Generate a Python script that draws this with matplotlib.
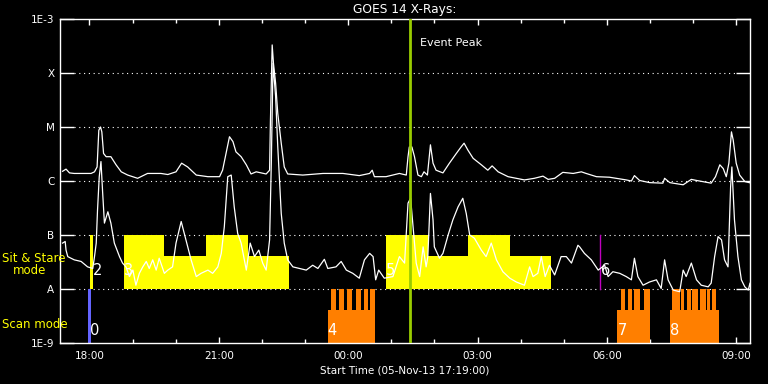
import numpy as np
import matplotlib
matplotlib.use("Agg")
import matplotlib.pyplot as plt
import matplotlib.dates as mdates
from matplotlib.ticker import NullLocator

START = np.datetime64("2013-11-05T17:19:00")

# GOES long channel (1-8 A): hours after start, log10 flux
long_t = [0.06, 0.14, 0.22, 0.33, 0.72, 0.80, 0.86, 0.90, 0.94, 0.97, 1.01, 1.07, 1.18, 1.30,
          1.42, 1.57, 1.80, 2.03, 2.34, 2.50, 2.69, 2.82, 2.96, 3.16, 3.43, 3.70, 3.77, 3.85,
          3.93, 4.01, 4.08, 4.20, 4.32, 4.43, 4.55, 4.78, 4.86, 4.88, 4.92, 4.95, 5.00, 5.05,
          5.13, 5.20, 5.28, 5.63, 6.10, 6.56, 6.94, 7.18, 7.24, 7.29, 7.56, 7.87, 8.03, 8.07,
          8.10, 8.16, 8.22, 8.30, 8.38, 8.44, 8.52, 8.59, 8.65, 8.72, 8.88, 9.03, 9.19, 9.30,
          9.37, 9.46, 9.58, 9.77, 9.92, 10.02, 10.16, 10.39, 10.77, 11.00, 11.20, 11.32, 11.47,
          11.66, 11.90, 12.09, 12.20, 12.44, 12.74, 13.13, 13.25, 13.32, 13.44, 13.67, 13.98,
          14.02, 14.14, 14.45, 14.64, 14.76, 15.10, 15.20, 15.30, 15.38, 15.45, 15.51, 15.57,
          15.61, 15.68, 15.76, 15.88, 16.03]
long_lg = [-5.82, -5.78, -5.85, -5.86, -5.86, -5.83, -5.74, -5.06, -5.00, -5.09, -5.49, -5.55,
           -5.55, -5.70, -5.83, -5.89, -5.95, -5.86, -5.86, -5.88, -5.83, -5.67, -5.74, -5.89,
           -5.92, -5.92, -5.80, -5.49, -5.18, -5.27, -5.46, -5.55, -5.70, -5.87, -5.83, -5.87,
           -5.80, -4.87, -3.48, -3.82, -4.19, -4.75, -5.30, -5.74, -5.87, -5.89, -5.86, -5.86,
           -5.90, -5.86, -5.80, -5.92, -5.92, -5.86, -5.89, -5.55, -5.37, -5.37, -5.55, -5.89,
           -5.92, -5.83, -5.89, -5.33, -5.67, -5.80, -5.85, -5.67, -5.49, -5.37, -5.30, -5.43,
           -5.58, -5.70, -5.80, -5.72, -5.83, -5.92, -5.98, -5.95, -5.91, -5.97, -5.95, -5.84,
           -5.86, -5.83, -5.86, -5.92, -5.93, -5.98, -6.00, -5.90, -5.99, -6.03, -6.04, -5.95,
           -6.03, -6.07, -5.97, -5.99, -6.04, -5.92, -5.70, -5.77, -5.92, -5.67, -5.09, -5.24,
           -5.67, -5.89, -6.01, -6.04]

# GOES short channel (0.5-4 A)
short_t = [0.06, 0.12, 0.14, 0.18, 0.33, 0.49, 0.64, 0.76, 0.80, 0.84, 0.87, 0.91, 0.95, 0.99,
           1.03, 1.11, 1.18, 1.26, 1.38, 1.45, 1.53, 1.61, 1.69, 1.76, 1.84, 1.92, 2.00, 2.07,
           2.15, 2.23, 2.30, 2.42, 2.50, 2.61, 2.69, 2.81, 2.92, 3.04, 3.16, 3.27, 3.43, 3.54,
           3.66, 3.74, 3.81, 3.89, 3.97, 4.04, 4.12, 4.20, 4.32, 4.41, 4.51, 4.61, 4.70, 4.78,
           4.86, 4.90, 4.94, 5.00, 5.05, 5.13, 5.20, 5.28, 5.40, 5.55, 5.71, 5.86, 5.98, 6.13,
           6.21, 6.40, 6.52, 6.64, 6.79, 6.94, 7.06, 7.18, 7.26, 7.32, 7.39, 7.52, 7.72, 7.87,
           7.99, 8.07, 8.13, 8.18, 8.26, 8.34, 8.42, 8.49, 8.53, 8.59, 8.65, 8.68, 8.80, 8.88,
           9.00, 9.11, 9.23, 9.34, 9.42, 9.50, 9.61, 9.77, 9.88, 10.00, 10.12, 10.27, 10.43,
           10.58, 10.77, 10.89, 10.97, 11.08, 11.16, 11.25, 11.35, 11.47, 11.62, 11.74, 11.86,
           12.01, 12.05, 12.16, 12.32, 12.48, 12.63, 12.71, 12.82, 12.98, 13.13, 13.25, 13.32,
           13.40, 13.52, 13.67, 13.83, 13.94, 14.02, 14.10, 14.22, 14.37, 14.45, 14.52, 14.64,
           14.76, 14.87, 15.03, 15.10, 15.18, 15.26, 15.34, 15.41, 15.49, 15.55, 15.58, 15.64,
           15.72, 15.80, 15.88, 15.96, 16.00, 16.03]
short_lg = [-7.15, -7.12, -7.28, -7.40, -7.46, -7.49, -7.59, -7.62, -7.40, -7.15, -6.54, -5.92,
            -5.64, -6.23, -6.78, -6.57, -6.78, -7.15, -7.40, -7.52, -7.59, -7.77, -7.65, -7.93,
            -7.71, -7.59, -7.49, -7.62, -7.46, -7.65, -7.43, -7.71, -7.65, -7.59, -7.15, -6.75,
            -7.09, -7.46, -7.77, -7.71, -7.65, -7.71, -7.59, -7.34, -6.85, -5.92, -5.89, -6.48,
            -6.97, -7.15, -7.65, -7.15, -7.40, -7.28, -7.52, -7.65, -7.09, -5.67, -3.82, -4.44,
            -5.37, -6.60, -7.15, -7.46, -7.59, -7.62, -7.65, -7.56, -7.62, -7.45, -7.62, -7.59,
            -7.49, -7.65, -7.71, -7.80, -7.46, -7.34, -7.40, -7.83, -7.65, -7.80, -7.77, -7.40,
            -7.52, -6.41, -6.32, -6.78, -7.52, -7.77, -7.22, -7.59, -7.40, -6.23, -6.72, -7.22,
            -7.43, -7.34, -7.00, -6.72, -6.48, -6.32, -6.60, -7.00, -7.06, -7.28, -7.40, -7.15,
            -7.46, -7.68, -7.80, -7.87, -7.93, -7.59, -7.77, -7.71, -7.40, -7.77, -7.56, -7.74,
            -7.40, -7.40, -7.52, -7.19, -7.22, -7.34, -7.46, -7.65, -7.56, -7.77, -7.68, -7.71,
            -7.77, -7.83, -7.43, -7.77, -7.93, -7.87, -7.83, -7.99, -7.46, -7.83, -8.02, -8.05,
            -7.65, -7.77, -7.52, -7.83, -7.93, -7.96, -7.89, -7.40, -7.03, -7.09, -7.46, -7.59,
            -6.11, -5.74, -6.72, -7.40, -7.83, -7.96, -8.02, -7.89, -8.07]

# sit & stare observations (from A level up to top)
sit_t0 = [0.70, 1.49, 2.41, 3.39, 4.36, 7.56, 8.54, 9.47, 10.44]
sit_t1 = [0.77, 2.41, 3.39, 4.36, 5.31, 8.54, 9.47, 10.44, 11.39]
sit_top = [1e-7, 1e-7, 4.1e-8, 1e-7, 4.1e-8, 1e-7, 4.1e-8, 1e-7, 4.1e-8]

# scan mode observations (from 1E-9 up to top)
scan_t0 = [6.21, 6.29, 6.47, 6.66, 6.87, 7.05, 7.19,
           12.92, 13.01, 13.18, 13.32, 13.55,
           14.15, 14.20, 14.27, 14.41, 14.55, 14.66, 14.85, 15.01, 15.13]
scan_t1 = [7.31, 6.40, 6.59, 6.77, 6.98, 7.15, 7.31,
           13.67, 13.11, 13.27, 13.46, 13.67,
           15.27, 14.25, 14.38, 14.48, 14.64, 14.80, 14.99, 15.08, 15.22]
scan_top = [4.1e-9, 1e-8, 1e-8, 1e-8, 1e-8, 1e-8, 1e-8,
            4.1e-9, 1e-8, 1e-8, 1e-8, 1e-8,
            4.1e-9, 1e-8, 1e-8, 1e-8, 1e-8, 1e-8, 1e-8, 1e-8, 1e-8]

# other events
ev0_t = [0.66, 0.71]
ev6_t = 12.53
peak_t = 8.12

ev_num = ["0", "2", "3", "4", "5", "6", "7", "8"]
ev_t = [0.70, 0.77, 1.49, 6.21, 7.56, 12.55, 12.94, 14.15]
ev_base = [1.25e-9, 1.6e-8, 1.6e-8, 1.25e-9, 1.6e-8, 1.6e-8, 1.25e-9, 1.25e-9]

ytick_vals = [1e-9, 1e-8, 1e-7, 1e-6, 1e-5, 1e-4, 1e-3]
ytick_labels = ["1E-9", "A", "B", "C", "M", "X", "1E-3"]


def when(hours):
    return START + (np.asarray(hours, dtype=float) * 3600).astype("timedelta64[s]")


fig = plt.figure(figsize=(7.68, 3.84), dpi=100, facecolor="black")
ax = fig.add_axes([60 / 768, 41 / 384, 690 / 768, 324 / 384], facecolor="black")
ax.set_yscale("log")
ax.set_ylim(1e-9, 1e-3)
ax.set_xlim(when(0), when(16))

# grid lines between the tick marks
for y in ytick_vals[1:-1]:
    ax.axhline(y, xmin=0.02, xmax=0.98, color="white", lw=0.8, ls=(0, (1, 3.3)), zorder=1)

for a, b, top in zip(sit_t0, sit_t1, sit_top):
    ax.fill_between(when([a, b]), 1e-8, top, color="#ffff00", lw=0, zorder=2)
for a, b, top in zip(scan_t0, scan_t1, scan_top):
    ax.fill_between(when([a, b]), 1e-9, top, color="#ff7f00", lw=0, zorder=2)
ax.fill_between(when(ev0_t), 1e-9, 1e-8, color="#6464ff", lw=0, zorder=2)
ax.plot(when([ev6_t, ev6_t]), [1e-8, 1e-7], color="#c000c0", lw=1, zorder=2)

ax.plot(when(long_t), 10 ** np.array(long_lg), color="white", lw=0.9, zorder=3)
ax.plot(when(short_t), 10 ** np.array(short_lg), color="white", lw=0.9, zorder=3)

ax.axvline(when(peak_t), color="#99cc00", lw=2, zorder=4)
ax.annotate("Event Peak", xy=(when(peak_t), 10 ** -3.45), xytext=(10, 0),
            textcoords="offset pixels", color="white", fontsize=8, va="center")

for n, t, b in zip(ev_num, ev_t, ev_base):
    ax.text(when(t), b, n, color="white", fontsize=10.5, ha="left", va="bottom", zorder=5)

ax.set_yticks(ytick_vals)
ax.set_yticklabels(ytick_labels)
ax.yaxis.set_minor_locator(NullLocator())
ax.xaxis.set_major_locator(mdates.HourLocator(byhour=range(0, 24, 3)))
ax.xaxis.set_minor_locator(mdates.HourLocator())
ax.xaxis.set_major_formatter(mdates.DateFormatter("%H:%M"))

ax.tick_params(axis="y", which="both", direction="in", length=10, width=1, color="white",
               labelcolor="white", labelsize=7.5, right=True, pad=4)
ax.tick_params(axis="x", which="major", direction="in", length=4.5, width=1, color="white",
               labelcolor="white", labelsize=7.5, top=True, pad=6)
ax.tick_params(axis="x", which="minor", direction="in", length=3, width=1, color="white", top=True)
for s in ax.spines.values():
    s.set_color("white")
    s.set_linewidth(1)

ax.set_title("GOES 14 X-Rays:", color="white", fontsize=8.8, pad=4)
ax.set_xlabel("Start Time (05-Nov-13 17:19:00)", color="white", fontsize=7.5, labelpad=3)

fig.text(2 / 768, 1 - 259 / 384, "Sit & Stare", color="#ffff00", fontsize=8.5, va="center")
fig.text(13 / 768, 1 - 271 / 384, "mode", color="#ffff00", fontsize=8.5, va="center")
fig.text(2 / 768, 1 - 324 / 384, "Scan mode", color="#ffff00", fontsize=8.5, va="center")

fig.savefig("out.png", dpi=100, facecolor="black")
